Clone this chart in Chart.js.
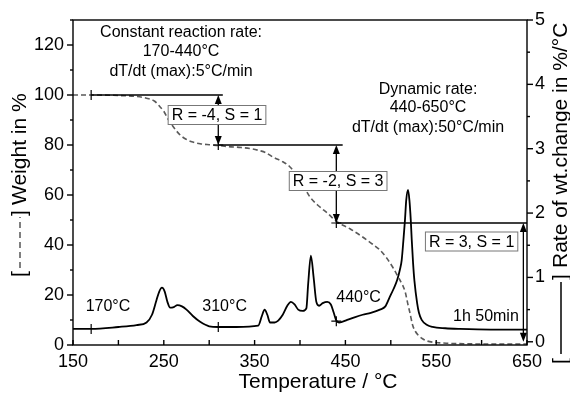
<!DOCTYPE html>
<html>
<head>
<meta charset="utf-8">
<script src="https://cdn.jsdelivr.net/npm/chart.js@4.4.0/dist/chart.umd.min.js"></script>
<style>
  html, body { margin: 0; padding: 0; background: #fff; }
  canvas { display: block; }
</style>
</head>
<body>
<canvas id="tgaChart" width="570" height="397"></canvas>
<script>
// weight loss curve (dashed, left axis)
const weightTemp = [150, 170, 200, 220, 230, 240, 246, 250, 254, 260, 268, 275, 282, 290, 300, 310, 320, 335, 348, 355, 362, 370, 380, 389, 400, 411, 420, 430, 441, 455, 469, 480, 488, 495, 502, 507, 510, 513, 516, 519, 521, 524, 527, 530, 535, 540, 550, 562, 580, 610, 650];
const weightValues = [100, 100, 99.8, 99.4, 98.8, 97.5, 95.2, 93.5, 90.8, 87.5, 84, 82.2, 81.2, 80.5, 80.1, 79.8, 79.4, 79, 78.4, 77.8, 77, 75.2, 73.5, 71.2, 66, 59.2, 55.8, 52.8, 49.2, 46.5, 43.2, 40.3, 38, 35, 31.2, 28, 26, 24, 21, 16, 13, 8, 5.5, 4, 2.5, 1.6, 1.0, 0.7, 0.5, 0.4, 0.4];

// rate of weight change (solid, right axis)
const rateTemp = [150, 170, 200, 220, 231, 237, 242, 245, 248, 251, 254, 257, 261, 265, 270, 275, 282, 290, 300, 310, 330, 354, 358, 361, 364, 367, 372, 376, 381, 386, 390, 394, 398, 403, 407, 409, 412, 415, 418, 421, 425, 430, 434, 437, 440, 443, 452, 460, 469, 478, 488, 494, 499, 503, 507, 510, 512, 514, 515.6, 517, 519, 520.5, 522, 523, 524.5, 526, 529, 531, 534, 540, 546, 560, 576, 610, 650];
const rateValues = [0.2, 0.2, 0.23, 0.26, 0.3, 0.42, 0.65, 0.78, 0.84, 0.78, 0.62, 0.53, 0.54, 0.57, 0.55, 0.5, 0.4, 0.31, 0.24, 0.23, 0.23, 0.25, 0.4, 0.5, 0.42, 0.3, 0.3, 0.33, 0.42, 0.56, 0.62, 0.58, 0.5, 0.48, 0.52, 0.9, 1.34, 1.0, 0.62, 0.56, 0.6, 0.62, 0.58, 0.46, 0.33, 0.3, 0.34, 0.38, 0.42, 0.45, 0.5, 0.55, 0.7, 0.82, 0.96, 1.12, 1.27, 1.6, 1.89, 2.2, 2.36, 2.2, 1.89, 1.6, 1.23, 0.95, 0.6, 0.45, 0.34, 0.26, 0.23, 0.21, 0.2, 0.19, 0.19];

const xTicks = [150, 250, 350, 450, 550, 650];
const weightTicks = [0, 20, 40, 60, 80, 100, 120];
const rateTicks = [0, 1, 2, 3, 4, 5];

// step levels (weight %) and the temperatures where the regime changes
const stepTemps = [170, 310, 440, 650];
const stepLevels = [100, 80, 48.8, 0];
const stepLabels = ['R = -4, S = 1', 'R = -2, S = 3', 'R = 3, S = 1'];

const FONT = "'Liberation Sans', Arial, sans-serif";

function toPoints(xs, ys) {
    return xs.map((x, i) => ({ x: x, y: ys[i] }));
}

function arrowHead(ctx, x, y, dir) {
    ctx.beginPath();
    ctx.moveTo(x, y);
    ctx.lineTo(x - 3.5, y - dir * 9);
    ctx.lineTo(x + 3.5, y - dir * 9);
    ctx.closePath();
    ctx.fill();
}

function doubleArrow(ctx, x, yTop, yBottom) {
    ctx.beginPath();
    ctx.moveTo(x, yTop + 4);
    ctx.lineTo(x, yBottom - 4);
    ctx.stroke();
    arrowHead(ctx, x, yTop, -1);
    arrowHead(ctx, x, yBottom, 1);
}

function boxedLabel(ctx, text, cx, cy) {
    ctx.font = '16px ' + FONT;
    const w = ctx.measureText(text).width + 7;
    const h = 19;
    ctx.fillStyle = '#fff';
    ctx.fillRect(cx - w / 2, cy - h / 2, w, h);
    ctx.strokeStyle = '#777';
    ctx.lineWidth = 1;
    ctx.strokeRect(cx - w / 2, cy - h / 2, w, h);
    ctx.fillStyle = '#000';
    ctx.textAlign = 'center';
    ctx.textBaseline = 'middle';
    ctx.fillText(text, cx, cy + 1);
}

function cross(ctx, x, y, withBar) {
    ctx.beginPath();
    ctx.moveTo(x, y - 5);
    ctx.lineTo(x, y + 5);
    if (withBar) {
        ctx.moveTo(x - 5, y);
        ctx.lineTo(x + 5, y);
    }
    ctx.stroke();
}

const decorations = {
    id: 'decorations',
    afterDatasetsDraw(chart) {
        const ctx = chart.ctx;
        const area = chart.chartArea;
        const xs = chart.scales.x, ys = chart.scales.y, ys1 = chart.scales.y1;
        const px = v => xs.getPixelForValue(v);
        const pw = v => ys.getPixelForValue(v);
        const pr = v => ys1.getPixelForValue(v);

        ctx.save();
        ctx.strokeStyle = '#000';
        ctx.fillStyle = '#000';
        ctx.lineWidth = 1.4;

        // frame
        ctx.strokeRect(area.left, area.top, area.right - area.left, area.bottom - area.top);

        // x ticks (inside), every 50
        for (let t = 150; t <= 650; t += 50) {
            ctx.beginPath();
            ctx.moveTo(px(t), area.bottom);
            ctx.lineTo(px(t), area.bottom - 5);
            ctx.stroke();
        }
        // left ticks (outside)
        for (let w = 0; w <= 130; w += 10) {
            const len = w % 20 === 0 ? 6 : 3;
            ctx.beginPath();
            ctx.moveTo(area.left, pw(w));
            ctx.lineTo(area.left - len, pw(w));
            ctx.stroke();
        }
        // right ticks (outside)
        for (let r = 0; r <= 5; r += 0.5) {
            const len = r % 1 === 0 ? 6 : 3;
            ctx.beginPath();
            ctx.moveTo(area.right, pr(r));
            ctx.lineTo(area.right + len, pr(r));
            ctx.stroke();
        }

        // step lines
        ctx.lineWidth = 1.5;
        ctx.beginPath();
        ctx.moveTo(px(stepTemps[0]), pw(stepLevels[0]));
        ctx.lineTo(px(315), pw(stepLevels[0]));
        ctx.moveTo(px(stepTemps[1]), pw(stepLevels[1]));
        ctx.lineTo(px(447), pw(stepLevels[1]));
        ctx.moveTo(px(stepTemps[2]), pw(stepLevels[2]));
        ctx.lineTo(px(stepTemps[3]), pw(stepLevels[2]));
        ctx.stroke();

        // arrows
        ctx.lineWidth = 1.3;
        doubleArrow(ctx, px(stepTemps[1]), pw(stepLevels[0]), pw(stepLevels[1]));
        doubleArrow(ctx, px(stepTemps[2]), pw(stepLevels[1]), pw(stepLevels[2]));
        doubleArrow(ctx, px(646), pw(stepLevels[2]), pr(0));

        // markers on curves
        ctx.lineWidth = 1.2;
        cross(ctx, px(170), pw(100), false);
        cross(ctx, px(310), pw(80), true);
        cross(ctx, px(440), pw(48.8), true);
        cross(ctx, px(170), pr(0.2), false);
        cross(ctx, px(310), pr(0.23), false);
        cross(ctx, px(440), pr(0.32), true);

        // boxed labels
        boxedLabel(ctx, stepLabels[0], px(308.6), pw(92));
        boxedLabel(ctx, stepLabels[1], px(442), pw(65.6));
        boxedLabel(ctx, stepLabels[2], px(589), pw(41.4));

        // text annotations
        ctx.fillStyle = '#000';
        ctx.font = '16px ' + FONT;
        ctx.textAlign = 'center';
        ctx.textBaseline = 'middle';
        ctx.fillText('Constant reaction rate:', px(269), pw(124.8));
        ctx.fillText('170-440°C', px(269), pw(117.2));
        ctx.fillText('dT/dt (max):5°C/min', px(269), pw(109.2));
        ctx.fillText('Dynamic rate:', px(541), pw(102));
        ctx.fillText('440-650°C', px(541), pw(94.8));
        ctx.fillText('dT/dt (max):50°C/min', px(541), pw(86.8));
        ctx.fillText('170°C', px(188.5), pw(15.2));
        ctx.fillText('310°C', px(317), pw(15.2));
        ctx.fillText('440°C', px(464.5), pw(18.8));
        ctx.textAlign = 'right';
        ctx.fillText('1h 50min', px(641), pw(11.2));

        // axis titles
        ctx.font = '21px ' + FONT;
        ctx.textAlign = 'center';
        ctx.fillText('Temperature / °C', (area.left + area.right) / 2 + 18, 382);

        // left title with dashed-line key
        ctx.save();
        ctx.translate(20, 277);
        ctx.rotate(-Math.PI / 2);
        ctx.textAlign = 'left';
        ctx.fillText('[', 0, 0);
        ctx.strokeStyle = '#555';
        ctx.lineWidth = 1.5;
        ctx.setLineDash([6, 4]);
        ctx.beginPath();
        ctx.moveTo(9, 0);
        ctx.lineTo(60, 0);
        ctx.stroke();
        ctx.setLineDash([]);
        ctx.fillText(']', 61, 0);
        ctx.fillText('Weight in %', 72, 0);
        ctx.restore();

        // right title with solid-line key
        ctx.save();
        ctx.translate(561, 364);
        ctx.rotate(-Math.PI / 2);
        ctx.textAlign = 'left';
        ctx.fillText('[', 0, 0);
        ctx.strokeStyle = '#000';
        ctx.lineWidth = 1.5;
        ctx.beginPath();
        ctx.moveTo(10, 0);
        ctx.lineTo(82, 0);
        ctx.stroke();
        ctx.fillText(']', 84, 0);
        ctx.fillText('Rate of wt.change in %/°C', 96, 0);
        ctx.restore();

        ctx.restore();
    }
};

const ctx = document.getElementById('tgaChart').getContext('2d');
const tgaChart = new Chart(ctx, {
    type: 'line',
    data: {
        datasets: [
            {
                label: 'Weight',
                data: toPoints(weightTemp, weightValues),
                yAxisID: 'y',
                borderColor: '#5a5a5a',
                borderWidth: 1.6,
                borderDash: [5, 3],
                pointRadius: 0,
                cubicInterpolationMode: 'monotone',
                fill: false
            },
            {
                label: 'Rate',
                data: toPoints(rateTemp, rateValues),
                yAxisID: 'y1',
                borderColor: '#000',
                borderWidth: 1.8,
                pointRadius: 0,
                cubicInterpolationMode: 'monotone',
                fill: false
            }
        ]
    },
    options: {
        responsive: false,
        animation: false,
        devicePixelRatio: 1,
        layout: { padding: { top: 20, left: 0, right: 0, bottom: 0 } },
        plugins: {
            legend: { display: false },
            tooltip: { enabled: false }
        },
        scales: {
            x: {
                type: 'linear',
                min: 150,
                max: 650,
                afterBuildTicks: axis => { axis.ticks = xTicks.map(v => ({ value: v })); },
                afterFit: axis => { axis.height = 52; },
                grid: { display: false, drawTicks: false },
                border: { display: false },
                ticks: { color: '#000', padding: 6, maxRotation: 0, font: { family: FONT, size: 18 } }
            },
            y: {
                position: 'left',
                min: 0,
                max: 130,
                afterBuildTicks: axis => { axis.ticks = weightTicks.map(v => ({ value: v })); },
                afterFit: axis => { axis.width = 73; },
                grid: { display: false, drawTicks: false },
                border: { display: false },
                ticks: { color: '#000', padding: 9, font: { family: FONT, size: 18 } }
            },
            y1: {
                position: 'right',
                min: -0.05,
                max: 5,
                afterBuildTicks: axis => { axis.ticks = rateTicks.map(v => ({ value: v })); },
                afterFit: axis => { axis.width = 43; },
                grid: { display: false, drawTicks: false },
                border: { display: false },
                ticks: { color: '#000', padding: 8, font: { family: FONT, size: 18 } }
            }
        }
    },
    plugins: [decorations]
});
</script>
</body>
</html>
